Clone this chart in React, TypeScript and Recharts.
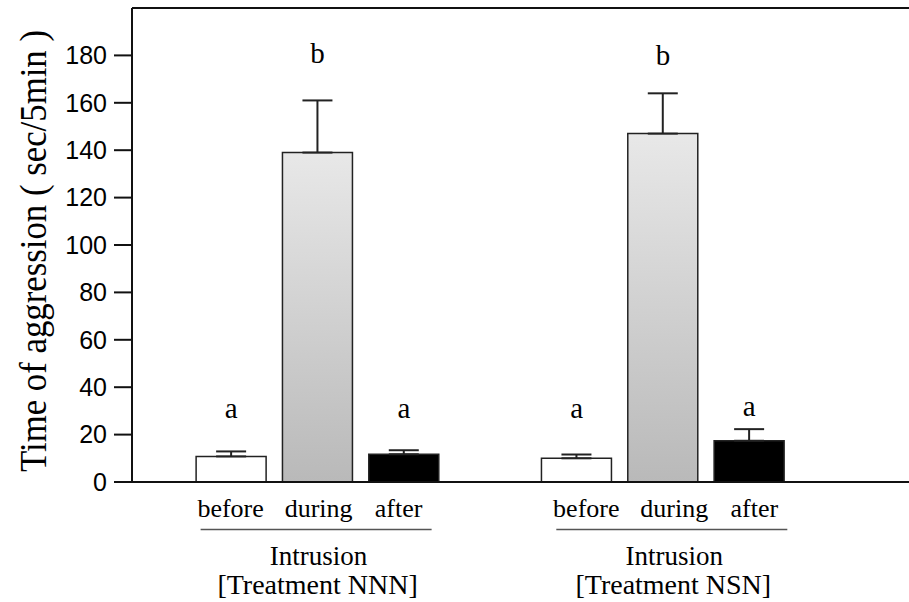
import {
  ComposedChart,
  Bar,
  Cell,
  ErrorBar,
  Scatter,
  XAxis,
  YAxis,
  ReferenceLine,
} from "recharts";

// bar positions on the numeric x axis (gap at 4 separates the two treatments)
const positions = [1, 2, 3, 5, 6, 7];
const phases = ["before", "during", "after", "before", "during", "after"];
const means = [10.8, 139, 11.7, 10, 147, 17.4];
const errors = [2.1, 22, 1.7, 1.6, 17, 4.9];
const letters = ["a", "b", "a", "a", "b", "a"];
const letterHeights = [27, 177, 27, 27, 176, 28];

const phaseNames = ["before", "during", "after"];
const groupNames = ["[Treatment NNN]", "[Treatment NSN]"];
const groupCenters = [2, 6.12];
const yTicks = [0, 20, 40, 60, 80, 100, 120, 140, 160, 180];

const data = positions.map((x, i) => ({
  x,
  phase: phases[i],
  mean: means[i],
  err: errors[i],
  letter: letters[i],
  letterY: letterHeights[i],
}));

const SERIF = '"Liberation Serif", "Times New Roman", serif';
const SANS = '"Liberation Sans", Arial, sans-serif';

const phaseFill: Record<string, string> = {
  before: "#ffffff",
  during: "url(#duringGrad)",
  after: "#000000",
};

// label offsets relative to the group centre
const phaseOffsets = [-87, 1, 81];

function GroupTick(props: any) {
  const { x, y, payload } = props;
  const gi = groupCenters.indexOf(payload.value);
  return (
    <g>
      {phaseNames.map((name, i) => (
        <text
          key={name}
          x={x + phaseOffsets[i]}
          y={y + 35}
          textAnchor="middle"
          fontSize={26}
          fontFamily={SERIF}
          fill="#000"
        >
          {name}
        </text>
      ))}
      <line x1={x - 117} x2={x + 114} y1={y + 47.5} y2={y + 47.5} stroke="#555" strokeWidth={1.5} />
      <text x={x + 1} y={y + 83} textAnchor="middle" fontSize={27} fontFamily={SERIF} fill="#000">
        Intrusion
      </text>
      <text x={x} y={y + 112} textAnchor="middle" fontSize={28} fontFamily={SERIF} fill="#000">
        {groupNames[gi]}
      </text>
    </g>
  );
}

function YLabel(props: any) {
  const { viewBox } = props;
  const cx = viewBox.x + 46;
  const cy = viewBox.y + viewBox.height / 2 + 6;
  return (
    <text
      x={cx}
      y={cy}
      transform={`rotate(-90, ${cx}, ${cy})`}
      textAnchor="middle"
      fontSize={37}
      fontFamily={SERIF}
      fill="#000"
      textLength={442}
      lengthAdjust="spacingAndGlyphs"
    >
      Time of aggression ( sec/5min )
    </text>
  );
}

function LetterMark(props: any) {
  const { cx, cy, payload } = props;
  return (
    <text x={cx} y={cy} textAnchor="middle" fontSize={29} fontFamily={SERIF} fill="#000">
      {payload.letter}
    </text>
  );
}

export default function App() {
  return (
    <div style={{ position: "absolute", left: 0, top: 0, background: "#fff" }}>
      <ComposedChart
        width={909}
        height={602}
        data={data}
        margin={{ top: 8, right: 0, bottom: 0, left: 0 }}
      >
        <defs>
          <linearGradient id="duringGrad" x1="0" y1="0" x2="0" y2="1">
            <stop offset="0%" stopColor="#e8e8e8" />
            <stop offset="100%" stopColor="#b9b9b9" />
          </linearGradient>
        </defs>
        <XAxis
          dataKey="x"
          type="number"
          domain={[-0.15, 8.85]}
          ticks={groupCenters}
          interval={0}
          height={120}
          tickLine={false}
          tickSize={0}
          tickMargin={0}
          axisLine={{ stroke: "#111", strokeWidth: 2 }}
          tick={<GroupTick />}
        />
        <YAxis
          type="number"
          domain={[0, 200]}
          ticks={yTicks}
          interval={0}
          width={132}
          tickSize={18}
          tickMargin={7}
          axisLine={{ stroke: "#111", strokeWidth: 2 }}
          tickLine={{ stroke: "#111", strokeWidth: 2 }}
          tick={{ fill: "#000", fontSize: 25, fontFamily: SANS }}
          label={<YLabel />}
        />
        <ReferenceLine y={200} stroke="#111" strokeWidth={2} />
        <Bar dataKey="mean" barSize={70} stroke="#222" strokeWidth={1.5} isAnimationActive={false}>
          {data.map((d, i) => (
            <Cell key={`bar-${i}`} fill={phaseFill[d.phase]} />
          ))}
          <ErrorBar
            dataKey={(d: any) => [0, d.err]}
            width={15}
            stroke="#222"
            strokeWidth={2}
            direction="y"
            isAnimationActive={false}
          />
        </Bar>
        <Scatter dataKey="letterY" shape={<LetterMark />} isAnimationActive={false} />
      </ComposedChart>
    </div>
  );
}
